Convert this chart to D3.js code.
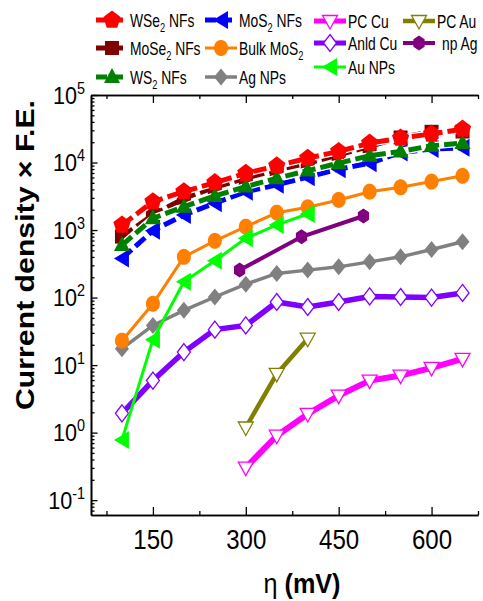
<!DOCTYPE html>
<html>
<head>
<meta charset="utf-8">
<script src="https://cdn.jsdelivr.net/npm/d3@7"></script>
<style>
  body { margin: 0; background: #fff; }
  svg { display: block; font-family: "Liberation Sans", Arial, sans-serif; }
</style>
</head>
<body>
<div id="chart"></div>
<script>
var width = 483;
var height = 601;

// overpotential (mV)
var eta = [100, 150, 200, 250, 300, 350, 400, 450, 500, 550, 600, 650];
var etaPC = [300, 350, 400, 450, 500, 550, 600, 650];
var etaPCAu = [300, 350, 400];
var etaAuNP = [100, 150, 200, 250, 300, 350, 400];
var etaNpAg = [290, 390, 490];

// current density x F.E.
var wse2 = [1190, 2630, 3700, 5040, 6950, 8930, 11600, 14600, 19400, 23000, 26500, 31300];
var mose2 = [800, 1670, 2950, 4300, 5860, 7790, 9780, 13000, 17300, 23500, 28500, 28800];
var ws2 = [600, 1490, 2220, 3200, 4400, 5860, 7600, 9780, 12600, 14600, 17700, 19400];
var mos2 = [380, 977, 1670, 2500, 3700, 4670, 6070, 7980, 9780, 14100, 15800, 16500];
var bulkMoS2 = [23, 81, 401, 693, 1120, 1810, 2170, 2790, 3700, 4300, 5220, 6350];
var agNPs = [17.5, 38.7, 64.7, 102, 158, 228, 255, 285, 338, 401, 516, 670];
var anldCu = [1.93, 5.9, 15.6, 33.5, 38.7, 86, 72.5, 86, 104, 102, 100, 117];
var pcCu = [0.304, 0.9, 1.89, 3.53, 5.9, 7.0, 9.1, 12.4];
var pcAu = [1.19, 7.4, 24.6];
var auNPs = [0.78, 23.8, 171, 350, 753, 1190, 1730];
var npAg = [255, 795, 1615];

var xTicks = [150, 300, 450, 600];
var yExponents = [-1, 0, 1, 2, 3, 4, 5];

var margin = {left: 91, right: 478, top: 95, bottom: 515};

var xScale = d3.scaleLinear().domain([50, 675]).range([margin.left, margin.right]);
var yScale = d3.scaleLog().domain([Math.pow(10, -1.22), 1e5]).range([margin.bottom, margin.top]);

var svg = d3.select("#chart").append("svg")
    .attr("width", width)
    .attr("height", height);

/* marker shapes, built with d3.line from a list of corners */
var shapeLine = d3.line().curve(d3.curveLinearClosed);
function poly(n, rx, ry, start) {
    var pts = [];
    for (var i = 0; i < n; i++) {
        var a = (start + i * 360 / n) * Math.PI / 180;
        pts.push([rx * Math.cos(a), ry * Math.sin(a)]);
    }
    return shapeLine(pts);
}
var shapes = {
    pentagon: poly(5, 9, 9.5, -90),
    square: shapeLine([[-7, -7], [7, -7], [7, 7], [-7, 7]]),
    triUp: shapeLine([[0, -9], [8, 6], [-8, 6]]),
    triLeft: shapeLine([[-8, 0], [7, -9], [7, 9]]),
    triDown: shapeLine([[-7.5, -5.5], [7.5, -5.5], [0, 8]]),
    diamond: poly(4, 7, 8.5, -90),
    openDiamond: poly(4, 6.5, 8.5, -90),
    circle: poly(40, 7, 8, 0),
    hexagon: poly(6, 6.5, 7.5, -90)
};

var series = [
    {name: "Ag NPs", x: eta, y: agNPs, color: "#808080", shape: "diamond", lw: 3.5},
    {name: "Anld Cu", x: eta, y: anldCu, color: "#8000ff", shape: "openDiamond", open: true, lw: 5.5},
    {name: "PC Cu", x: etaPC, y: pcCu, color: "#ff00ff", shape: "triDown", open: true, lw: 6},
    {name: "PC Au", x: etaPCAu, y: pcAu, color: "#808000", shape: "triDown", open: true, lw: 4.5},
    {name: "np Ag", x: etaNpAg, y: npAg, color: "#800080", shape: "hexagon", lw: 4},
    {name: "Bulk MoS2", x: eta, y: bulkMoS2, color: "#ff8000", shape: "circle", lw: 3},
    {name: "Au NPs", x: etaAuNP, y: auNPs, color: "#00ff00", shape: "triLeft", lw: 3},
    {name: "MoS2 NFs", x: eta, y: mos2, color: "#0000ff", shape: "triLeft", dashed: true, lw: 5},
    {name: "MoSe2 NFs", x: eta, y: mose2, color: "#800000", shape: "square", dashed: true, lw: 5},
    {name: "WS2 NFs", x: eta, y: ws2, color: "#008000", shape: "triUp", dashed: true, lw: 5},
    {name: "WSe2 NFs", x: eta, y: wse2, color: "#ff0000", shape: "pentagon", dashed: true, lw: 5}
];

var line = d3.line()
    .x(function (d) { return xScale(d[0]); })
    .y(function (d) { return yScale(d[1]); });

series.forEach(function (s) {
    var pts = s.x.map(function (v, i) { return [v, s.y[i]]; });
    var g = svg.append("g");
    if (s.dashed) {
        g.append("path")
            .attr("d", line(pts))
            .style("fill", "none")
            .style("stroke", "#fff")
            .style("stroke-width", s.lw + 2.5);
    }
    g.append("path")
        .attr("d", line(pts))
        .style("fill", "none")
        .style("stroke", s.color)
        .style("stroke-width", s.lw)
        .style("stroke-dasharray", s.dashed ? "13,5" : null);
    g.selectAll(".m")
        .data(pts)
        .enter()
        .append("path")
        .attr("d", shapes[s.shape])
        .attr("transform", function (d) {
            return "translate(" + xScale(d[0]) + "," + yScale(d[1]) + ")";
        })
        .style("fill", s.open ? "#fff" : s.color)
        .style("stroke", s.open ? s.color : "none")
        .style("stroke-width", 1.3);
});

/* axes: ticks point inward, no right axis */
var minorX = [75, 225, 375, 525, 675];
var minorY = [];
for (var e = -2; e < 5; e++) {
    for (var m = 2; m < 10; m++) {
        var v = m * Math.pow(10, e);
        if (v >= Math.pow(10, -1.22) && v <= 1e5) minorY.push(v);
    }
}

function styleAxis(g) {
    g.selectAll("path, line").style("stroke", "#000").style("stroke-width", 1.3);
    g.select(".domain").style("stroke-width", 1.6);
}

svg.append("g")
    .attr("transform", "translate(0," + margin.bottom + ")")
    .call(d3.axisBottom(xScale).tickValues(xTicks).tickSize(-8).tickSizeOuter(0).tickPadding(14))
    .call(styleAxis)
    .selectAll("text")
    .style("font-size", "28px")
    .style("fill", "#000")
    .attr("transform", "scale(0.86,1)");

svg.append("g")
    .attr("transform", "translate(0," + margin.bottom + ")")
    .call(d3.axisBottom(xScale).tickValues(minorX).tickSize(-4).tickSizeOuter(0).tickFormat(""))
    .call(styleAxis);

svg.append("g")
    .attr("transform", "translate(0," + margin.top + ")")
    .call(d3.axisTop(xScale).tickValues(xTicks).tickSize(-8).tickSizeOuter(0).tickFormat(""))
    .call(styleAxis);

svg.append("g")
    .attr("transform", "translate(0," + margin.top + ")")
    .call(d3.axisTop(xScale).tickValues(minorX).tickSize(-4).tickSizeOuter(0).tickFormat(""))
    .call(styleAxis);

var yMajor = yExponents.map(function (p) { return Math.pow(10, p); });

svg.append("g")
    .attr("transform", "translate(" + margin.left + ",0)")
    .call(d3.axisLeft(yScale).tickValues(minorY).tickSize(-3.5).tickSizeOuter(0).tickFormat(""))
    .call(styleAxis);

var yAxisG = svg.append("g")
    .attr("transform", "translate(" + margin.left + ",0)")
    .call(d3.axisLeft(yScale).tickValues(yMajor).tickSize(-6.5).tickSizeOuter(0).tickFormat(""))
    .call(styleAxis);

yAxisG.selectAll(".tick")
    .append("text")
    .attr("transform", "translate(-6,8) scale(0.9,1)")
    .style("text-anchor", "end")
    .style("fill", "#000")
    .style("font-size", "24px")
    .each(function (d) {
        var t = d3.select(this);
        t.append("tspan").text("10");
        t.append("tspan")
            .attr("dy", -10)
            .style("font-size", "16px")
            .text(Math.round(Math.log10(d)));
    });

/* axis titles */
var xTitle = svg.append("text")
    .attr("transform", "translate(302,593) scale(0.9,1)")
    .style("text-anchor", "middle")
    .style("font-size", "28px");
xTitle.append("tspan").text("η ");
xTitle.append("tspan").style("font-weight", "bold").text("(mV)");

svg.append("text")
    .attr("transform", "translate(34,255) rotate(-90)")
    .style("text-anchor", "middle")
    .style("font-size", "25px")
    .style("font-weight", "bold")
    .attr("textLength", 310)
    .attr("lengthAdjust", "spacingAndGlyphs")
    .text("Current density × F.E.");

/* legend */
var legendItems = [
    {name: "WSe2 NFs", lx: 96, ly: 20},
    {name: "MoSe2 NFs", lx: 96, ly: 48},
    {name: "WS2 NFs", lx: 96, ly: 77},
    {name: "MoS2 NFs", lx: 205, ly: 20},
    {name: "Bulk MoS2", lx: 205, ly: 48},
    {name: "Ag NPs", lx: 205, ly: 77},
    {name: "PC Cu", lx: 314, ly: 21},
    {name: "Anld Cu", lx: 314, ly: 43},
    {name: "Au NPs", lx: 314, ly: 67},
    {name: "PC Au", lx: 403, ly: 21},
    {name: "np Ag", lx: 403, ly: 43}
];
var labelParts = {
    "WSe2 NFs": ["WSe", "2", " NFs"],
    "MoSe2 NFs": ["MoSe", "2", " NFs"],
    "WS2 NFs": ["WS", "2", " NFs"],
    "MoS2 NFs": ["MoS", "2", " NFs"],
    "Bulk MoS2": ["Bulk MoS", "2", ""]
};

legendItems.forEach(function (item) {
    var s = series.filter(function (d) { return d.name === item.name; })[0];
    var g = svg.append("g").attr("transform", "translate(" + item.lx + "," + item.ly + ")");
    g.append("line")
        .attr("x1", 0).attr("x2", 32)
        .style("stroke", s.color)
        .style("stroke-width", Math.min(s.lw, 5))
        .style("stroke-dasharray", s.dashed ? "11,5,11" : null);
    g.append("path")
        .attr("d", shapes[s.shape])
        .attr("transform", "translate(16,0)")
        .style("fill", s.open ? "#fff" : s.color)
        .style("stroke", s.open ? s.color : "none")
        .style("stroke-width", 1.3);
    var t = g.append("text")
        .attr("transform", "translate(" + (item.name === "np Ag" ? 39 : 34) + ",6.5) scale(0.77,1)")
        .style("font-size", "18px")
        .style("fill", "#000");
    var parts = labelParts[item.name];
    if (parts) {
        t.append("tspan").text(parts[0]);
        t.append("tspan").attr("dy", 5).style("font-size", "12px").text(parts[1]);
        if (parts[2]) t.append("tspan").attr("dy", -5).text(parts[2]);
    } else {
        t.text(item.name);
    }
});
</script>
</body>
</html>
